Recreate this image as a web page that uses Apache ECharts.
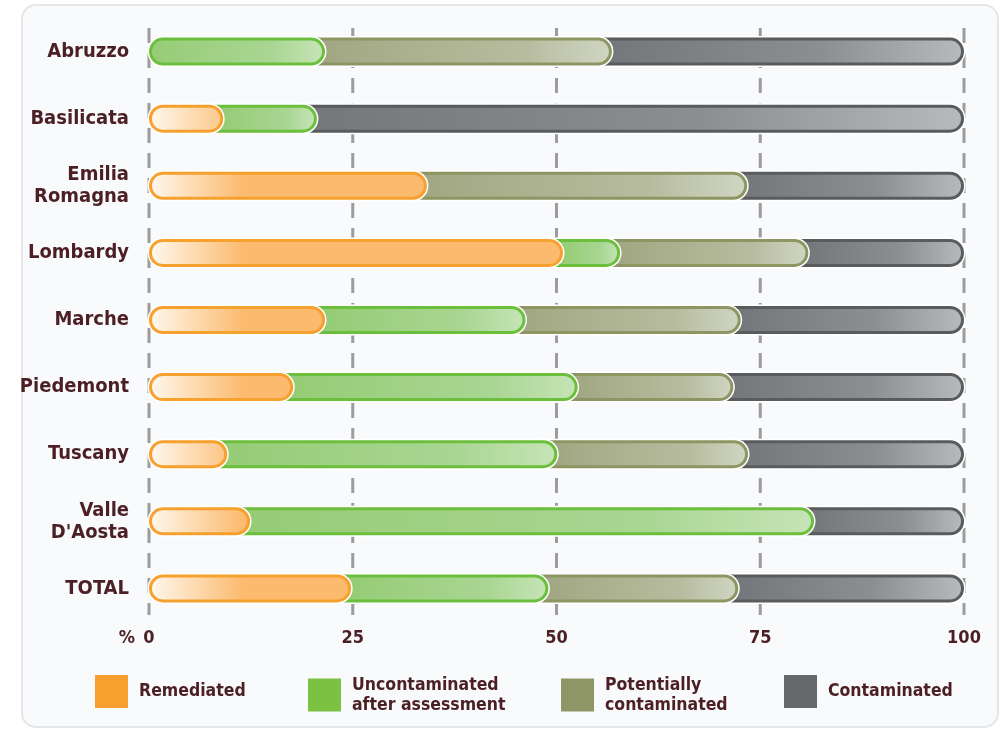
<!DOCTYPE html>
<html>
<head>
<meta charset="utf-8">
<script src="https://cdn.jsdelivr.net/npm/echarts@6/dist/echarts.min.js"></script>
<style>
html,body{margin:0;padding:0;background:#ffffff;}
#chart{width:1002px;height:731px;}
</style>
</head>
<body>
<div id="chart"></div>
<script>
var categories = ['Abruzzo', 'Basilicata', 'Emilia\nRomagna', 'Lombardy', 'Marche', 'Piedemont', 'Tuscany', 'Valle\nD\'Aosta', 'TOTAL'];
var remediated     = [0,    9.1, 34.1, 50.8, 21.6, 17.7,  9.6, 12.4, 24.8];
var uncontaminated = [21.6, 11.5, 0,    7.0, 24.6, 34.9, 40.5, 69.2, 24.2];
var potentially    = [35.2, 0,   39.3, 23.1, 26.4, 19.1, 23.4,  0,   23.3];
var contaminated   = [43.2, 79.4, 26.6, 19.1, 27.4, 28.3, 26.5, 18.4, 27.7];
var seriesNames = ['Remediated', 'Uncontaminated after assessment', 'Potentially contaminated', 'Contaminated'];
var xTicks = [0, 25, 50, 75, 100];

var FONT = "'Liberation Sans Narrow', 'DejaVu Sans Condensed', 'Liberation Sans', sans-serif";
var TEXT = '#4b1f24';

var styles = [
  {swatch: '#f7a02f', stroke: '#f6a02e', stops: [[0, '#fff8ee'], [1, '#fbba6e']], pixel: 95},
  {swatch: '#7bc243', stroke: '#6cbf3d', stops: [[0, '#96cc76'], [0.7, '#a9d693'], [1, '#c6e4b6']]},
  {swatch: '#8f9665', stroke: '#8d9563', stops: [[0, '#a2a783'], [0.7, '#b7bc9f'], [1, '#d0d5c3']]},
  {swatch: '#666768', stroke: '#5a5b5d', stops: [[0, '#75787b'], [0.6, '#8c8f92'], [1, '#b6babd']]}
];

var values = [remediated, uncontaminated, potentially, contaminated];

function buildData(k) {
  var out = [];
  for (var i = 0; i < categories.length; i++) {
    var s = 0;
    for (var j = 0; j < k; j++) s += values[j][i];
    out.push([s, i, s + values[k][i]]);
  }
  return out;
}

function makeRender(k) {
  var st = styles[k];
  return function (params, api) {
    var start = api.value(0), cat = api.value(1), end = api.value(2);
    if (end - start <= 0.001) return null;
    var p0 = api.coord([start, cat]);
    var p1 = api.coord([end, cat]);
    var h = 25, r = h / 2;
    var first = start <= 0.001;
    var x0 = first ? p0[0] + 1.5 : p0[0] - r - 6;
    var x1 = p1[0] - 1.5;
    var w = x1 - x0;
    var y = p0[1] - h / 2;
    var fill;
    var cs = st.stops.map(function (s) { return {offset: s[0], color: s[1]}; });
    if (st.pixel) {
      fill = new echarts.graphic.LinearGradient(p0[0], 0, p0[0] + st.pixel, 0, cs, true);
    } else {
      var gx0 = first ? x0 : p0[0];
      fill = new echarts.graphic.LinearGradient(gx0, 0, x1, 0, cs, true);
    }
    var rr = first ? [r, r, r, r] : [0, r, r, 0];
    var hr = first ? [r + 3, r + 3, r + 3, r + 3] : [0, r + 3, r + 3, 0];
    return {
      type: 'group',
      children: [
        {type: 'rect', shape: {x: x0 - 3, y: y - 3, width: w + 6, height: h + 6, r: hr}, style: {fill: '#ffffff'}},
        {type: 'rect', shape: {x: x0, y: y, width: w, height: h, r: rr}, style: {fill: fill, stroke: st.stroke, lineWidth: 3}}
      ]
    };
  };
}

var series = seriesNames.map(function (name, k) {
  return {
    type: 'custom',
    name: name,
    z: 10 - k,
    itemStyle: {color: styles[k].swatch},
    encode: {x: [0, 2], y: 1},
    renderItem: makeRender(k),
    data: buildData(k)
  };
});

// dashed vertical grid lines at the tick values, spanning the category rows
series.push({
  type: 'custom',
  name: 'gridlines',
  z: 1,
  silent: true,
  encode: {x: 0, y: 1},
  data: xTicks.map(function (v) { return [v, 0]; }),
  renderItem: function (params, api) {
    var v = api.value(0);
    var band = api.size([0, 1])[1];
    var top = api.coord([v, 0]);
    var bot = api.coord([v, categories.length - 1]);
    return {
      type: 'line',
      shape: {x1: top[0], y1: top[1] - band / 2 + 10, x2: bot[0], y2: bot[1] + band / 2 - 7},
      style: {stroke: '#9c9c9c', lineWidth: 3, lineDash: [15, 10]}
    };
  }
});

var legendLabels = {
  'Remediated': 'Remediated',
  'Uncontaminated after assessment': 'Uncontaminated\nafter assessment',
  'Potentially contaminated': 'Potentially\ncontaminated',
  'Contaminated': 'Contaminated'
};
var legendLeft = [95, 308, 561, 784];
var legends = seriesNames.map(function (name, k) {
  return {
    data: [name],
    left: legendLeft[k],
    top: 675,
    padding: 0,
    orient: 'horizontal',
    icon: 'rect',
    itemWidth: 33,
    itemHeight: 33,
    selectedMode: false,
    formatter: function (n) { return legendLabels[n]; },
    textStyle: {fontFamily: FONT, fontSize: 17.5, fontWeight: 'bold', color: TEXT, lineHeight: 20, padding: [0, 0, 0, 6]}
  };
});

var chart = echarts.init(document.getElementById('chart'), null, {renderer: 'canvas'});
chart.setOption({
  backgroundColor: '#ffffff',
  animation: false,
  graphic: [{
    type: 'rect', z: -10, silent: true,
    shape: {x: 22, y: 5, width: 976, height: 722, r: 14},
    style: {fill: '#f9fafc', stroke: '#e4e6e9', lineWidth: 2}
  }],
  legend: legends,
  grid: {left: 149, right: 38, top: 18, bottom: 109, containLabel: false},
  xAxis: {
    type: 'value', min: 0, max: 100, interval: 25,
    name: '%', nameLocation: 'start', nameGap: 14,
    nameTextStyle: {fontFamily: FONT, fontSize: 18, fontWeight: 'bold', color: TEXT, verticalAlign: 'top', padding: [7, 0, 0, 0]},
    axisLine: {show: false}, axisTick: {show: false},
    axisLabel: {fontFamily: FONT, fontSize: 18, fontWeight: 'bold', color: TEXT, margin: 7,
      formatter: function (v) { return xTicks.indexOf(v) >= 0 ? String(v) : ''; }},
    splitLine: {show: false}
  },
  yAxis: {
    type: 'category', data: categories, inverse: true,
    axisLine: {show: false}, axisTick: {show: false},
    axisLabel: {fontFamily: FONT, fontSize: 20, fontWeight: 'bold', color: TEXT, margin: 20, lineHeight: 22, align: 'right'},
    splitLine: {show: false}
  },
  series: series
});
</script>
</body>
</html>
